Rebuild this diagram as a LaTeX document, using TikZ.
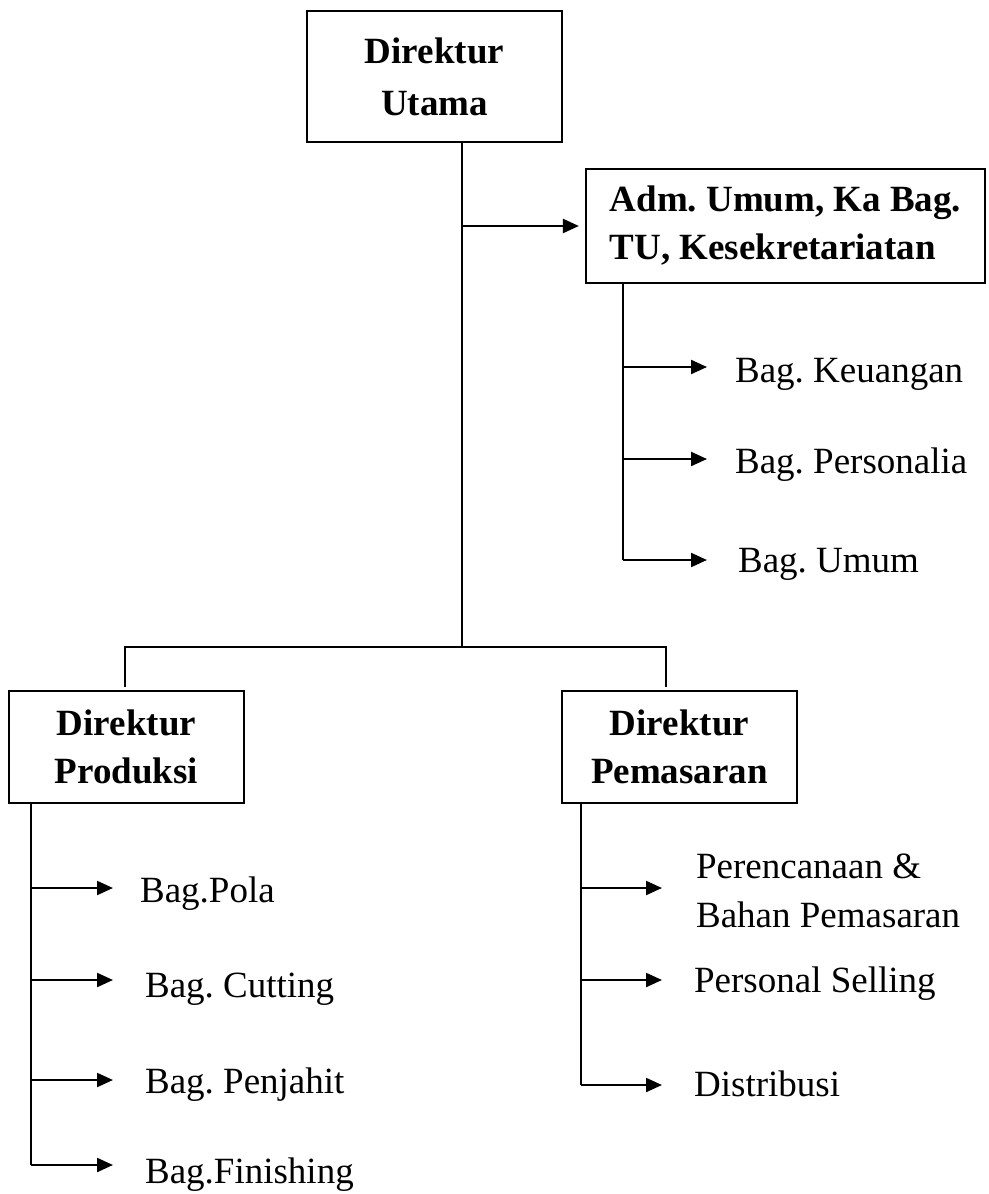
\documentclass[tikz,border=0pt]{standalone}
\usepackage{fontspec}
\setmainfont{Liberation Serif}
\frenchspacing
\usetikzlibrary{arrows.meta}
\begin{document}
\begin{tikzpicture}[x=1pt,y=-1pt,
  line width=2.2pt,
  every node/.style={font=\fontsize{37}{48}\selectfont},
  unitbox/.style={draw, line width=2.2pt, inner sep=0pt, align=center, font=\fontsize{37}{48}\selectfont\bfseries},
  lbl/.style={anchor=base west, inner sep=0pt},
  arr/.style={-{Triangle[length=16pt,width=14pt]}}]
\useasboundingbox (0,0) rectangle (988,1194);

% boxes
\node[unitbox, minimum width=255pt, minimum height=131pt,
      font=\fontsize{37}{52}\selectfont\bfseries] (utama) at (434.5,76.5) {Direktur\\Utama};
\node[unitbox, minimum width=399pt, minimum height=114pt, align=left] (adm) at (785.5,226) {Adm. Umum, Ka Bag.\\TU, Kesekretariatan};
\node[unitbox, minimum width=235pt, minimum height=112pt] (prod) at (126.5,747) {Direktur\\Produksi};
\node[unitbox, minimum width=235pt, minimum height=112pt] (pem) at (679.5,747) {Direktur\\Pemasaran};

% trunk and branches
\coordinate (bar) at (462,647);
\coordinate (lt) at (125,687);
\coordinate (rt) at (666,687);
\draw (utama.south -| bar) -- (bar);
\draw (lt) |- (bar) -| (rt);
\draw[arr, shorten >=6pt] (bar |- adm.west) -- (adm.west);

% administration units
\coordinate (as) at (623,283);
\coordinate (a1) at (707,367);
\coordinate (a2) at (707,459);
\coordinate (a3) at (707,560);
\draw (as) -- (as |- a3);
\draw[arr] (as |- a1) -- (a1);
\draw[arr] (as |- a2) -- (a2);
\draw[arr] (as |- a3) -- (a3);
\node[lbl] (keu) at (734,382) {Bag. Keuangan};
\node[lbl] (pers) at (734,473) {Bag. Personalia};
\node[lbl] (umum) at (737,572) {Bag. Umum};

% production units
\coordinate (ps) at (31,803);
\coordinate (p1) at (113,888);
\coordinate (p2) at (113,980);
\coordinate (p3) at (113,1080);
\coordinate (p4) at (113,1165);
\draw (ps) -- (ps |- p4);
\draw[arr] (ps |- p1) -- (p1);
\draw[arr] (ps |- p2) -- (p2);
\draw[arr] (ps |- p3) -- (p3);
\draw[arr] (ps |- p4) -- (p4);
\node[lbl] (pola) at (139,902) {Bag.Pola};
\node[lbl] (cut) at (144,997) {Bag. Cutting};
\node[lbl] (jahit) at (144,1093) {Bag. Penjahit};
\node[lbl] (fin) at (144,1183) {Bag.Finishing};

% marketing units
\coordinate (ms) at (581,803);
\coordinate (m1) at (662,888);
\coordinate (m2) at (662,980);
\coordinate (m3) at (662,1085);
\draw (ms) -- (ms |- m3);
\draw[arr] (ms |- m1) -- (m1);
\draw[arr] (ms |- m2) -- (m2);
\draw[arr] (ms |- m3) -- (m3);
\node[lbl] (renc) at (695,878) {Perencanaan \&};
\node[lbl] (bahan) at (695,927) {Bahan Pemasaran};
\node[lbl] (sell) at (693,992) {Personal Selling};
\node[lbl] (dist) at (693,1096) {Distribusi};
\end{tikzpicture}
\end{document}
